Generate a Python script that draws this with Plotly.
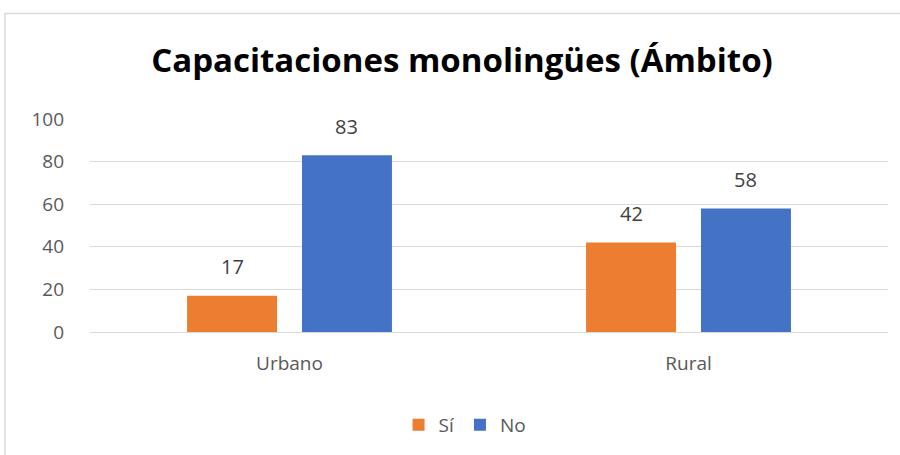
import plotly.graph_objects as go

categories = ["Urbano", "Rural"]
series_names = ["Sí", "No"]
si_values = [17, 42]
no_values = [83, 58]
colors = ["#ED7D31", "#4472C4"]
y_ticks = [0, 20, 40, 60, 80, 100]

W, H = 900, 455
L, R, T, B = 90, 12, 119, 122
PH = H - T - B
PW = W - L - R

fig = go.Figure()
for name, vals, col in zip(series_names, [si_values, no_values], colors):
    fig.add_trace(go.Bar(x=categories, y=vals, name=name, marker=dict(color=col, line=dict(width=0))))

offsets = [-0.5, 0.5]
ann = []
for vals, off in zip([si_values, no_values], offsets):
    for i, v in enumerate(vals):
        ann.append(dict(x=i + off * 0.288, y=v, xref="x", yref="y", text=str(v), showarrow=False,
                        yanchor="middle", yshift=29,
                        font=dict(family="Open Sans", size=20, color="#404040")))

fig.update_layout(
    width=W, height=H,
    margin=dict(l=L, r=R, t=T, b=B),
    paper_bgcolor="white", plot_bgcolor="white",
    barmode="group", bargap=0.424, bargroupgap=0.217,
    title=dict(text="<b>Capacitaciones monolingües (Ámbito)</b>", x=462 / W, xanchor="center",
               y=1 - 60 / H, yanchor="middle",
               font=dict(family="Open Sans", size=33, color="#000000")),
    font=dict(family="Open Sans", size=19, color="#595959"),
    showlegend=True,
    legend=dict(orientation="h", x=0.47, xanchor="center", y=-(425 - 333) / PH, yanchor="middle",
                font=dict(size=19, color="#595959"), itemwidth=30, traceorder="normal"),
    annotations=ann,
    shapes=[dict(type="rect", xref="paper", yref="paper",
                 x0=(5 - L) / PW, x1=(W + 20 - L) / PW,
                 y0=-(H + 20 - (H - B)) / PH, y1=((H - B) - 13) / PH,
                 line=dict(color="#d9d9d9", width=1.5), fillcolor="rgba(0,0,0,0)", layer="below")],
)
fig.update_xaxes(type="category", showgrid=False, showline=True, linecolor="#d9d9d9", linewidth=1,
                 ticks="", tickfont=dict(size=19, color="#595959"), ticklabelstandoff=14)
fig.update_yaxes(range=[0, 100], tickvals=y_ticks, showgrid=True, gridcolor="#d9d9d9", gridwidth=1,
                 zeroline=False, showline=False, ticks="", tickfont=dict(size=19, color="#595959"),
                 ticklabelstandoff=25)

fig.write_html("out.html", config={"displayModeBar": False},
               post_script="document.body.style.margin='0';document.body.style.overflow='hidden';")
